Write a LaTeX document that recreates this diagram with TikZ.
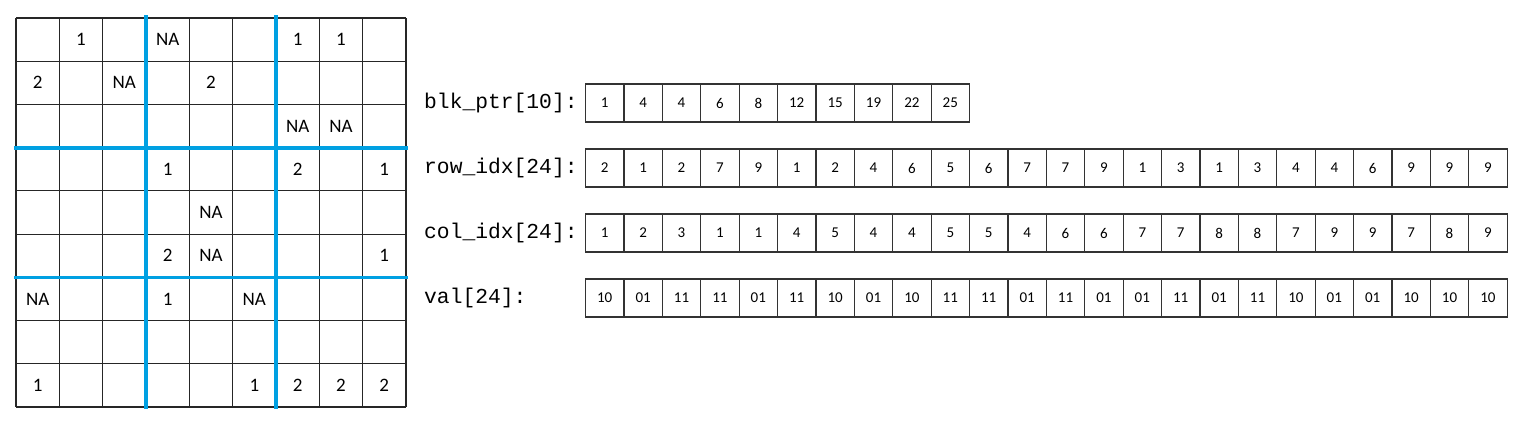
\documentclass[tikz,border=0pt]{standalone}
\usepackage{fontspec}
\setmainfont{Carlito}
\newfontfamily\codefont{Liberation Mono}
\usepackage{xcolor}
\usepackage{tikz}
\usetikzlibrary{positioning}
\definecolor{sepblue}{RGB}{0,160,226}

\begin{document}
\begin{tikzpicture}[x=1pt, y=-1pt,
        gridline/.style={line width=1.2pt, black!85},
        sepline/.style={line width=3.6pt, sepblue},
        gridval/.style={inner sep=0pt, font=\fontsize{19}{22}\selectfont},
        cellbox/.style={rectangle, draw=black!80, line width=1.2pt, minimum width=38.4pt, minimum height=38pt, inner sep=0pt, font=\fontsize{15}{18}\selectfont},
        arrname/.style={anchor=west, inner sep=0pt, font=\codefont\fontsize{21.3}{24}\selectfont}
    ]
    
    \useasboundingbox (0,0) rectangle (1526,426);
    
    % Matrix: 9x9 grid of cells
    \foreach \i in {0,...,9} {
        \draw[gridline] ({16+43.33*\i},18) -- ({16+43.33*\i},407);
        \draw[gridline] (16,{18+43.22*\i}) -- (406,{18+43.22*\i});
    }
    
    % Blocks (3x3) - blue separators
    \draw[sepline] (146,15) -- (146,409);
    \draw[sepline] (276,15) -- (276,409);
    \draw[sepline] (14,147.7) -- (408,147.7);
    \draw[sepline] (14,277.3) -- (408,277.3);
    
    % Matrix entries (row/column/value)
    \foreach \r/\c/\v in {1/2/1, 1/4/NA, 1/7/1, 1/8/1,
                          2/1/2, 2/3/NA, 2/5/2,
                          3/7/NA, 3/8/NA,
                          4/4/1, 4/7/2, 4/9/1,
                          5/5/NA,
                          6/4/2, 6/5/NA, 6/9/1,
                          7/1/NA, 7/4/1, 7/6/NA,
                          9/1/1, 9/6/1, 9/7/2, 9/8/2, 9/9/2}
        \node[gridval] (m_\r_\c) at ({16+43.33*(\c-0.5)},{18+43.22*(\r-0.5)}) {\v};
    
    % Array names
    \node[arrname] (blk_ptr_name) at (424,103) {blk\_ptr[10]:};
    \node[arrname] (row_idx_name) at (424,168) {row\_idx[24]:};
    \node[arrname] (col_idx_name) at (424,233) {col\_idx[24]:};
    \node[arrname] (val_name) at (424,298) {val[24]:};
    
    % Array cells
    \foreach \v [count=\i] in {1,4,4,6,8,12,15,19,22,25}
        \node[cellbox] (blk_ptr_\i) at ({585.5+38.4*(\i-0.5)},103) {\v};
    \foreach \v [count=\i] in {2,1,2,7,9,1,2,4,6,5,6,7,7,9,1,3,1,3,4,4,6,9,9,9}
        \node[cellbox] (row_idx_\i) at ({585.5+38.4*(\i-0.5)},168) {\v};
    \foreach \v [count=\i] in {1,2,3,1,1,4,5,4,4,5,5,4,6,6,7,7,8,8,7,9,9,7,8,9}
        \node[cellbox] (col_idx_\i) at ({585.5+38.4*(\i-0.5)},233) {\v};
    \foreach \v [count=\i] in {10,01,11,11,01,11,10,01,10,11,11,01,11,01,01,11,01,11,10,01,01,10,10,10}
        \node[cellbox] (val_\i) at ({585.5+38.4*(\i-0.5)},298) {\v};
    
\end{tikzpicture}
\end{document}
